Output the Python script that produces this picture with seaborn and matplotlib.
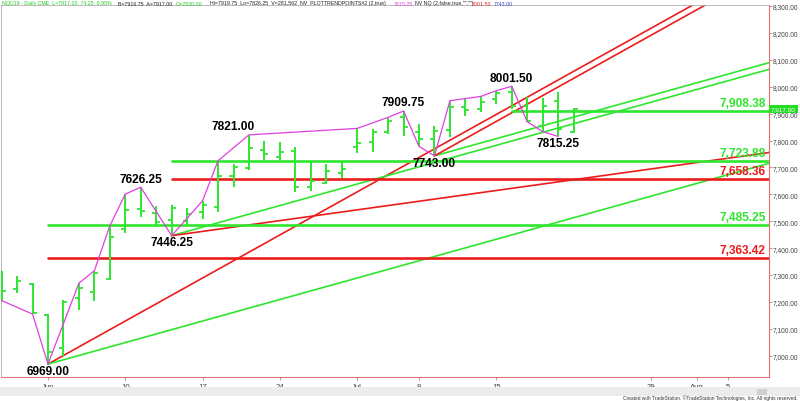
import matplotlib
matplotlib.use("Agg")
import matplotlib.pyplot as plt
from matplotlib.patches import Rectangle
import pandas as pd
import seaborn as sns

# NQU19 daily bars
dates = ["2019-05-29", "2019-05-30", "2019-05-31",
         "2019-06-03", "2019-06-04", "2019-06-05", "2019-06-06", "2019-06-07",
         "2019-06-10", "2019-06-11", "2019-06-12", "2019-06-13", "2019-06-14",
         "2019-06-17", "2019-06-18", "2019-06-19", "2019-06-20", "2019-06-21",
         "2019-06-24", "2019-06-25", "2019-06-26", "2019-06-27", "2019-06-28",
         "2019-07-01", "2019-07-02", "2019-07-03", "2019-07-05",
         "2019-07-08", "2019-07-09", "2019-07-10", "2019-07-11", "2019-07-12",
         "2019-07-15", "2019-07-16", "2019-07-17", "2019-07-18", "2019-07-19",
         "2019-07-22"]
opens = [7290, 7248, 7266, 7150, 7028, 7215, 7236, 7286,
         7471, 7545, 7530, 7505, 7500,
         7533, 7552, 7667, 7697, 7766,
         7740, 7762, 7626, 7642, 7679,
         7777, 7795, 7830, 7886,
         7832, 7805, 7840, 7925, 7918,
         7955, 7979, 7929, 7855, 7948,
         7830.00]
highs = [7316, 7295, 7269, 7157, 7207, 7270, 7316, 7483,
         7601, 7626.25, 7555, 7560, 7548,
         7576, 7725, 7713, 7821.00, 7800,
         7793, 7777, 7721, 7713, 7719,
         7845, 7843, 7886, 7909.75,
         7861, 7855, 7948, 7956, 7964,
         7985, 8001.50, 7960, 7957, 7981,
         7919.75]
lows = [7205, 7233, 7155, 6969.00, 6998, 7171, 7205, 7283,
        7456, 7515, 7483, 7446.25, 7481,
        7508, 7535, 7626, 7692, 7725,
        7729, 7607, 7613, 7638, 7660,
        7754, 7758, 7824, 7816,
        7778, 7743.00, 7812, 7890, 7907,
        7936, 7917, 7870, 7833, 7815.25,
        7826.25]
closes = [7242, 7279, 7158, 7015, 7200, 7251, 7308, 7440,
          7543, 7539, 7496, 7548, 7527,
          7561, 7669, 7700, 7771, 7750,
          7758, 7626, 7651, 7688, 7694,
          7791, 7830, 7874, 7849,
          7806, 7836, 7925, 7915, 7945,
          7978, 7930, 7874, 7929, 7842.75,
          7917.00]

# swing line (PLOTTRENDPOINTS) pivots
pivot_dates = ["2019-05-29", "2019-05-31", "2019-06-03", "2019-06-05", "2019-06-06",
               "2019-06-07", "2019-06-10", "2019-06-11", "2019-06-13", "2019-06-17",
               "2019-06-18", "2019-06-20", "2019-07-01", "2019-07-03", "2019-07-05",
               "2019-07-08", "2019-07-09", "2019-07-10", "2019-07-11", "2019-07-12",
               "2019-07-15", "2019-07-16", "2019-07-17", "2019-07-18", "2019-07-19"]
pivot_sides = ["L", "L", "L", "H", "H",
               "H", "H", "H", "L", "H",
               "H", "H", "H", "H", "H",
               "L", "L", "H", "H", "H",
               "H", "H", "L", "L", "L"]

# swing point labels
label_dates = ["2019-06-03", "2019-06-11", "2019-06-13", "2019-06-19",
               "2019-07-05", "2019-07-09", "2019-07-16", "2019-07-19"]
label_values = [6969.00, 7626.25, 7446.25, 7821.00, 7909.75, 7743.00, 8001.50, 7815.25]
label_sides = ["L", "H", "L", "H", "H", "L", "H", "L"]

# retracement levels
level_values = [7908.38, 7723.88, 7658.36, 7485.25, 7363.42]
level_starts = ["2019-07-16", "2019-06-13", "2019-06-13", "2019-06-03", "2019-06-03"]
level_kinds = ["green", "green", "red", "green", "red"]

# gann angles: anchor, points per bar
gann_dates = ["2019-06-03", "2019-06-03", "2019-06-13", "2019-06-13", "2019-07-09", "2019-07-09"]
gann_prices = [6969.00, 6969.00, 7446.25, 7446.25, 7743.00, 7743.00]
gann_slopes = [32, 16, 16, 8, 16, 32]
gann_kinds = ["red", "green", "green", "red", "green", "red"]

tick_dates = ["2019-06-03", "2019-06-10", "2019-06-17", "2019-06-24", "2019-07-01",
              "2019-07-08", "2019-07-15", "2019-07-29", "2019-08-01", "2019-08-05"]
tick_labels = ["Jun", "10", "17", "24", "Jul", "8", "15", "29", "Aug", "5"]

GREEN = "#2ee62e"
RED = "#ec1c1c"
MAGENTA = "#e040e0"
AXIS = "#e07070"
colors = {"green": GREEN, "red": RED}

# trading sessions (Jul 4 closed) -> bar position
sessions = pd.bdate_range("2019-05-29", "2019-08-09").drop(pd.Timestamp("2019-07-04"))
pos = {d.strftime("%Y-%m-%d"): i for i, d in enumerate(sessions)}

bars = pd.DataFrame({"date": dates, "open": opens, "high": highs,
                     "low": lows, "close": closes})
bars["x"] = bars["date"].map(pos)
hl = bars.set_index("date")

sns.set_style("white")
plt.rcParams["font.family"] = ["Liberation Sans", "DejaVu Sans"]

fig = plt.figure(figsize=(8, 4.02), dpi=100)
ax = fig.add_axes([1 / 800, 24 / 402, 768 / 800, 372 / 402])
x_left, x_right = -0.04, 49.64
ax.set_xlim(x_left, x_right)
ax.set_ylim(6921, 8303.7)

# gann angle lines
for d, p, s, k in zip(gann_dates, gann_prices, gann_slopes, gann_kinds):
    x0 = pos[d]
    ax.plot([x0, x_right], [p, p + s * (x_right - x0)], color=colors[k], lw=1.2, zorder=2)

# retracement levels with value labels
for v, d, k in zip(level_values, level_starts, level_kinds):
    ax.plot([pos[d], x_right], [v, v], color=colors[k], lw=1.9, zorder=2)
    ax.annotate(f"{v:,.2f}", xy=(0.996, v), xycoords=("axes fraction", "data"),
                xytext=(0, 1.5), textcoords="offset points", ha="right", va="bottom",
                color=colors[k], fontsize=8.6, fontweight="bold", zorder=5)

# OHLC bars
tw = 0.26
ax.vlines(bars["x"], bars["low"], bars["high"], color=GREEN, lw=1.4, zorder=3)
ax.hlines(bars["open"], bars["x"] - tw, bars["x"], color=GREEN, lw=1.3, zorder=3)
ax.hlines(bars["close"], bars["x"], bars["x"] + tw, color=GREEN, lw=1.3, zorder=3)

# swing line
swing = pd.DataFrame({
    "x": [pos[d] for d in pivot_dates],
    "y": [hl.loc[d, "high"] if s == "H" else hl.loc[d, "low"]
          for d, s in zip(pivot_dates, pivot_sides)],
})
sns.lineplot(data=swing, x="x", y="y", sort=False, color=MAGENTA, lw=0.9, ax=ax, zorder=4)

for d, v, s in zip(label_dates, label_values, label_sides):
    off = 6.2 if s == "H" else -4.8
    ax.annotate(f"{v:.2f}", xy=(pos[d], v), xytext=(0, off), textcoords="offset points",
                ha="center", va="center", fontsize=8.6, fontweight="bold", color="black", zorder=5)

# current price marker
ax.annotate(f"{closes[-1]:,.2f}", xy=(1.0, closes[-1]), xycoords=("axes fraction", "data"),
            xytext=(1.5, 0), textcoords="offset points", ha="left", va="center",
            fontsize=4.6, color="white", annotation_clip=False, zorder=6,
            bbox=dict(boxstyle="square,pad=0.3", fc="#22dd22", ec="none"))

# axes styling
ax.set_xlabel("")
ax.set_ylabel("")
ax.set_xticks([pos[d] for d in tick_dates])
ax.set_xticklabels(tick_labels)
ax.set_yticks(range(7000, 8301, 100))
ax.yaxis.set_major_formatter(matplotlib.ticker.FuncFormatter(lambda v, _: f"{v:,.2f}"))
ax.yaxis.tick_right()
ax.tick_params(axis="y", which="both", right=True, left=False, direction="out",
               length=2, width=0.6, color=AXIS, labelsize=4.8, labelcolor="#444444", pad=0.5)
ax.tick_params(axis="x", bottom=True, direction="out", length=2.5, width=0.6,
               color=AXIS, labelsize=5.6, labelcolor="#444444", pad=1.5)
for side in ["right", "bottom"]:
    ax.spines[side].set_color(AXIS)
    ax.spines[side].set_linewidth(0.8)
for side in ["left", "top"]:
    ax.spines[side].set_color("#b0b0b0")
    ax.spines[side].set_linewidth(0.6)
ax.grid(False)

# header line
header = [
    ("NQU19 - Daily CME  L=7917.00  74.25  0.95%", "#22cc22", 2),
    ("B=7916.75  A=7917.00", "#222222", 118),
    ("O=7830.00", "#22cc22", 176),
    ("Hi=7919.75  Lo=7826.25  V=281,562  NV  PLOTTRENDPOINTS#2 (2,true)", "#222222", 210),
    ("7815.25", "#dd44dd", 394),
    ("NV NQ (2,false,true,\"\",\"\")", "#222222", 415),
    ("8001.50", "#dd2222", 472),
    ("7743.00", "#3344cc", 494),
]
for txt, col, px in header:
    fig.text(px / 800, 1 - 4 / 402, txt, fontsize=3.8, color=col, ha="left", va="center")

# scrollbar strip and footer
fig.patches.append(Rectangle((0, 5 / 402), 1, 9 / 402, transform=fig.transFigure,
                             fc="#ececec", ec="none", zorder=0))
fig.patches.append(Rectangle((757 / 800, 6 / 402), 10 / 800, 6 / 402, transform=fig.transFigure,
                             fc="#cfcfcf", ec="none", zorder=1))
fig.text(0.997, 0.002, "Created with TradeStation. \u00a9TradeStation Technologies, Inc. All rights reserved.",
         fontsize=3.5, color="#333333", ha="right", va="bottom")

fig.savefig("out.png", dpi=100)
